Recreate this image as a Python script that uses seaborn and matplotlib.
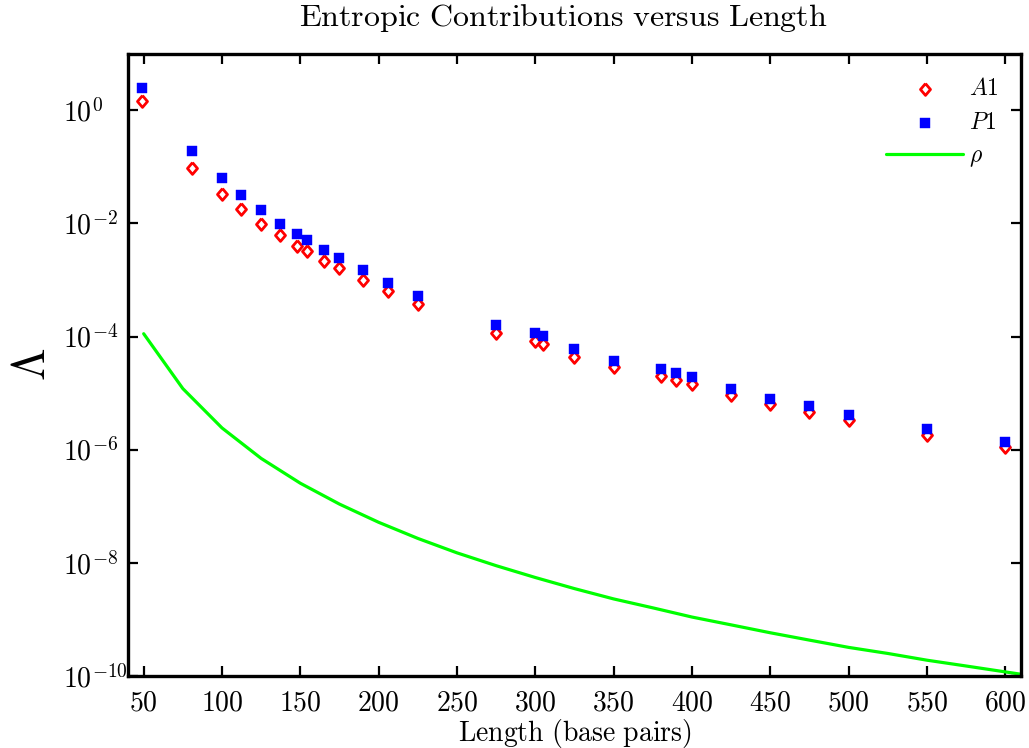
import matplotlib
matplotlib.use("Agg")
import matplotlib.pyplot as plt
import pandas as pd
import seaborn as sns

# Measured entropic contributions (A1, P1) per DNA length
length_bp = [49, 81, 100, 112, 125, 137, 148, 154, 165, 175, 190, 206, 225,
             275, 300, 305, 325, 350, 380, 390, 400, 425, 450, 475, 500, 550, 600]
lambda_a1 = [1.44, 0.095, 0.0326, 0.0179, 0.0099, 0.0062, 0.0040, 0.0032, 0.0022,
             0.0016, 0.00101, 0.00063, 0.00038, 1.16e-4, 8.3e-5, 7.4e-5, 4.3e-5,
             2.86e-5, 2.0e-5, 1.71e-5, 1.46e-5, 9.3e-6, 6.3e-6, 4.6e-6, 3.33e-6,
             1.8e-6, 1.1e-6]
lambda_p1 = [2.5, 0.19, 0.0625, 0.0322, 0.017, 0.0099, 0.0066, 0.0051, 0.00342,
             0.00243, 0.00148, 0.00089, 0.00053, 1.63e-4, 1.14e-4, 1.03e-4, 5.96e-5,
             3.76e-5, 2.64e-5, 2.24e-5, 1.94e-5, 1.17e-5, 8.0e-6, 5.8e-6, 4.17e-6,
             2.3e-6, 1.35e-6]

# Reference curve rho sampled every 25 bp
rho_length = [50, 75, 100, 125, 150, 175, 200, 225, 250, 275, 300, 325, 350,
              375, 400, 425, 450, 475, 500, 525, 550, 575, 600, 625]
rho_value = [1.12e-4, 1.2e-5, 2.42e-6, 7.0e-7, 2.55e-7, 1.09e-7, 5.2e-8, 2.7e-8,
             1.5e-8, 8.9e-9, 5.5e-9, 3.5e-9, 2.3e-9, 1.6e-9, 1.1e-9, 8.0e-10,
             5.8e-10, 4.3e-10, 3.2e-10, 2.5e-10, 1.9e-10, 1.5e-10, 1.18e-10, 9.3e-11]

x_ticks = [50, 100, 150, 200, 250, 300, 350, 400, 450, 500, 550, 600]
y_exponents = [0, -2, -4, -6, -8, -10]

points = pd.DataFrame({"length": length_bp, "A1": lambda_a1, "P1": lambda_p1})
rho = pd.DataFrame({"length": rho_length, "rho": rho_value})

sns.set_style("ticks")
plt.rcParams.update({
    "mathtext.fontset": "cm",
    "font.family": ["DejaVu Serif"],
    "text.color": "black",
    "axes.labelcolor": "black",
    "xtick.color": "black",
    "ytick.color": "black",
})

fig = plt.figure(figsize=(10.29, 7.48), dpi=100)
ax = fig.add_axes([0.1244, 0.0963, 0.8678, 0.832])

diamond = [(0, 1), (0.85, 0), (0, -1), (-0.85, 0), (0, 1)]

sns.scatterplot(data=points, x="length", y="A1", ax=ax, marker=diamond, s=72,
                facecolor="white", edgecolor="#ff0000", linewidth=2.0,
                label="$A1$", zorder=3)
sns.scatterplot(data=points, x="length", y="P1", ax=ax, marker="s", s=50,
                color="#0000ff", edgecolor="#0000ff", linewidth=0.3,
                label="$P1$", zorder=4)
sns.lineplot(data=rho, x="length", y="rho", ax=ax, color="#00ff00",
             linewidth=2.3, label=r"$\rho$", zorder=2)

ax.set_yscale("log")
ax.set_xlim(40, 610)
ax.set_ylim(1e-10, 1e1)

ax.set_xticks(x_ticks)
ax.set_xticklabels([f"${v}$" for v in x_ticks])
ax.set_yticks([10.0 ** e for e in y_exponents])
ax.set_yticklabels([f"$10^{{{e}}}$" for e in y_exponents])
ax.yaxis.set_minor_locator(matplotlib.ticker.NullLocator())
ax.xaxis.set_minor_locator(matplotlib.ticker.NullLocator())

ax.tick_params(axis="both", which="major", direction="in", length=7, width=1.6,
               top=True, right=True, labelsize=20, colors="black")
ax.tick_params(axis="x", pad=10)
# y labels start at a common left edge, exponents run toward the axis
ax.tick_params(axis="y", pad=47)
for lbl in ax.get_yticklabels():
    lbl.set_horizontalalignment("left")

for side in ax.spines.values():
    side.set_linewidth(2.4)
    side.set_color("black")

ax.set_title(r"$\mathrm{Entropic\ Contributions\ versus\ Length}$",
             fontsize=23, pad=20, x=0.488)
ax.set_xlabel(r"$\mathrm{Length\ (base\ pairs)}$", fontsize=20, labelpad=0)
ax.set_ylabel(r"$\Lambda$", fontsize=34, rotation=90)
ax.yaxis.set_label_coords(-0.082, 0.5)

ax.legend(loc="upper right", bbox_to_anchor=(0.975, 0.962), frameon=False,
          fontsize=17, handlelength=3.25, handletextpad=0.25, labelspacing=0.45,
          borderaxespad=0, borderpad=0, scatterpoints=1)

fig.savefig("out.png", dpi=100)
